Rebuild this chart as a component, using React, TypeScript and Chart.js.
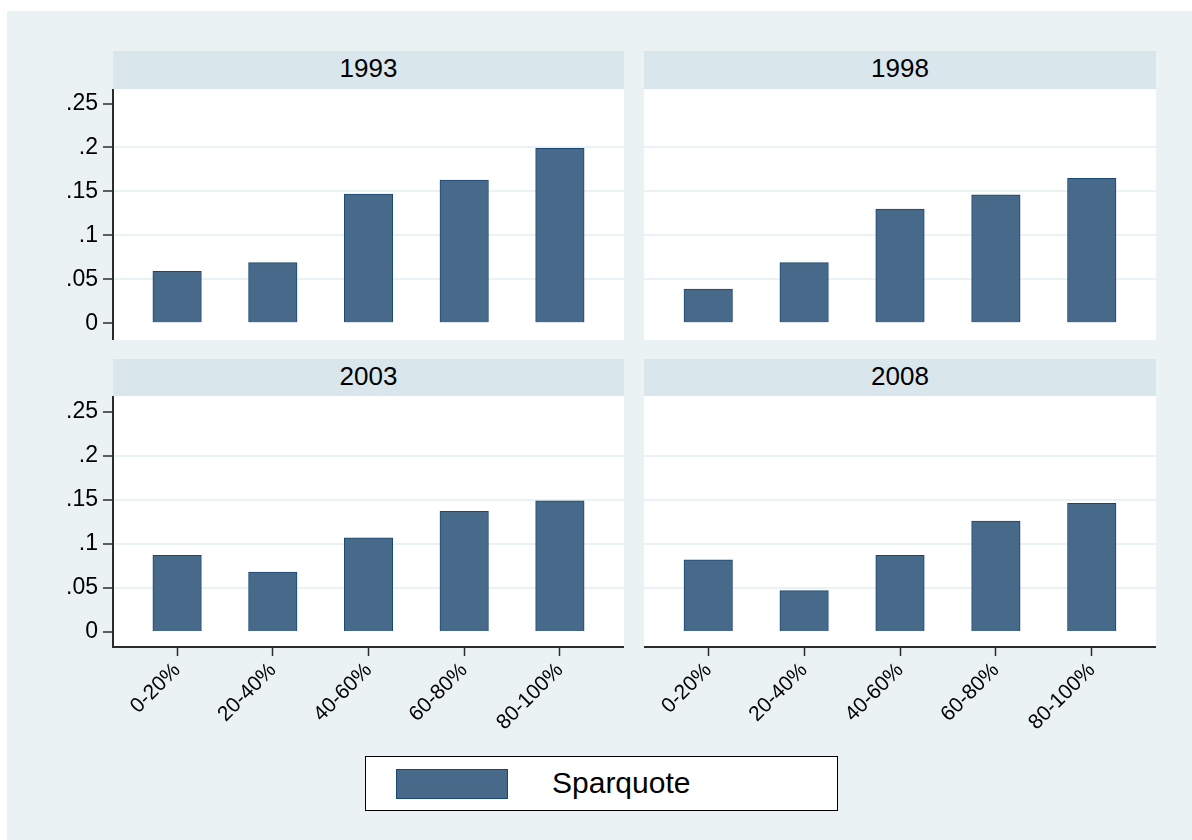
import React, { useEffect, useRef } from "react";
import { Chart, registerables } from "chart.js";

Chart.register(...registerables);

// ---------- data ----------
const categories = ["0-20%", "20-40%", "40-60%", "60-80%", "80-100%"];
const panelTitles = ["1993", "1998", "2003", "2008"];
const values1993 = [0.059, 0.069, 0.147, 0.163, 0.199];
const values1998 = [0.039, 0.069, 0.13, 0.146, 0.165];
const values2003 = [0.087, 0.068, 0.107, 0.137, 0.149];
const values2008 = [0.082, 0.047, 0.087, 0.126, 0.146];
const yTicks = [0, 0.05, 0.1, 0.15, 0.2, 0.25];
const yTickLabels = ["0", ".05", ".1", ".15", ".2", ".25"];
const seriesLabel = "Sparquote";

// ---------- style ----------
const FONT = "'Liberation Sans', Arial, Helvetica, sans-serif";
const BG = "#EAF2F3";
const STRIP = "#D9E6EB";
const BAR_FILL = "#476A8B";
const BAR_EDGE = "#1A476F";
const AXIS = "#2b2b2b";

Chart.defaults.font.family = FONT;

const plotBg = {
  id: "plotBg",
  beforeDraw(chart: any) {
    const { ctx, chartArea: a } = chart;
    ctx.save();
    ctx.fillStyle = "#ffffff";
    ctx.fillRect(a.left, a.top, a.right - a.left, a.bottom - a.top);
    ctx.restore();
  },
};

type PanelProps = {
  title: string;
  values: number[];
  isLeft: boolean;
  isBottom: boolean;
  plotLeft: number;
  plotTop: number;
  plotWidth: number;
  plotHeight: number;
  stripTop: number;
  yMin: number;
  yMax: number;
};

function Panel(p: PanelProps) {
  const ref = useRef<HTMLCanvasElement | null>(null);
  const yw = p.isLeft ? 100 : 0;
  const xh = p.isBottom ? 103 : 0;
  const cw = p.plotWidth + yw;
  const chH = p.plotHeight + xh;

  useEffect(() => {
    if (!ref.current) return;
    const zeroPad = (s: any) => {
      s.paddingLeft = 0;
      s.paddingRight = 0;
      s.paddingTop = 0;
      s.paddingBottom = 0;
    };
    const chart = new Chart(ref.current, {
      type: "bar",
      data: {
        datasets: [
          {
            label: seriesLabel,
            data: p.values.map((v, i) => ({ x: i, y: v })),
            backgroundColor: BAR_FILL,
            borderColor: BAR_EDGE,
            borderWidth: 1,
            barThickness: 48.5,
          },
        ],
      },
      options: {
        animation: false,
        responsive: false,
        maintainAspectRatio: false,
        devicePixelRatio: 1,
        layout: { padding: 0 },
        plugins: {
          legend: { display: false },
          title: { display: false },
          tooltip: { enabled: false },
        },
        scales: {
          x: {
            type: "linear",
            bounds: "data",
            offset: false,
            min: -0.67,
            max: 4.67,
            display: p.isBottom,
            afterBuildTicks: (s: any) => {
              s.ticks = categories.map((_, i) => ({ value: i }));
            },
            afterFit: (s: any) => {
              s.height = xh;
              zeroPad(s);
            },
            grid: {
              offset: false,
              drawOnChartArea: false,
              drawTicks: true,
              tickLength: 9,
              tickColor: AXIS,
              tickWidth: 1.5,
            },
            border: { display: true, color: AXIS, width: 2 },
            ticks: {
              autoSkip: false,
              minRotation: 45,
              maxRotation: 45,
              padding: 2,
              color: "#000",
              font: { size: 21 },
              callback: (v: any) => categories[Math.round(Number(v))] ?? "",
            },
          },
          y: {
            type: "linear",
            bounds: "data",
            min: p.yMin,
            max: p.yMax,
            afterBuildTicks: (s: any) => {
              s.ticks = yTicks.map((v) => ({ value: v }));
            },
            afterFit: (s: any) => {
              s.width = yw;
              zeroPad(s);
            },
            grid: {
              color: (ctx: any) =>
                ctx.tick && ctx.tick.value > 0.001 && ctx.tick.value < 0.249
                  ? BG
                  : "rgba(0,0,0,0)",
              lineWidth: 2,
              drawTicks: p.isLeft,
              tickLength: 10,
              tickColor: AXIS,
              tickWidth: 1.5,
            },
            border: { display: p.isLeft, color: AXIS, width: 2 },
            ticks: {
              display: p.isLeft,
              padding: 5,
              color: "#000",
              font: { size: 23 },
              callback: (v: any) => {
                const idx = yTicks.findIndex((t) => Math.abs(t - Number(v)) < 1e-9);
                return idx >= 0 ? yTickLabels[idx] : "";
              },
            },
          },
        },
      } as any,
      plugins: [plotBg],
    });
    return () => chart.destroy();
  }, []);

  return (
    <>
      <div
        style={{
          position: "absolute",
          left: p.plotLeft,
          top: p.stripTop,
          width: p.plotWidth,
          height: p.plotTop - p.stripTop,
          background: STRIP,
          textAlign: "center",
          fontFamily: FONT,
          fontSize: 26,
          lineHeight: "34px",
          color: "#000",
        }}
      >
        {p.title}
      </div>
      <canvas
        ref={ref}
        width={cw}
        height={chH}
        style={{
          position: "absolute",
          left: p.plotLeft - yw,
          top: p.plotTop,
          width: cw,
          height: chH,
        }}
      />
    </>
  );
}

export default function App() {
  const panels: PanelProps[] = [
    { title: panelTitles[0], values: values1993, isLeft: true, isBottom: false, plotLeft: 113, plotTop: 89, plotWidth: 511, plotHeight: 251, stripTop: 51, yMin: -0.019, yMax: 0.2665 },
    { title: panelTitles[1], values: values1998, isLeft: false, isBottom: false, plotLeft: 644, plotTop: 89, plotWidth: 512, plotHeight: 251, stripTop: 51, yMin: -0.019, yMax: 0.2665 },
    { title: panelTitles[2], values: values2003, isLeft: true, isBottom: true, plotLeft: 113, plotTop: 396, plotWidth: 511, plotHeight: 251, stripTop: 359, yMin: -0.017, yMax: 0.268 },
    { title: panelTitles[3], values: values2008, isLeft: false, isBottom: true, plotLeft: 644, plotTop: 396, plotWidth: 512, plotHeight: 251, stripTop: 359, yMin: -0.017, yMax: 0.268 },
  ];
  return (
    <div
      style={{
        position: "absolute",
        left: 0,
        top: 0,
        width: 1192,
        height: 840,
        background: "#ffffff",
        overflow: "hidden",
      }}
    >
      <div
        style={{
          position: "absolute",
          left: 7,
          top: 11,
          width: 1185,
          height: 829,
          background: BG,
        }}
      />
      {panels.map((p) => (
        <Panel key={p.title} {...p} />
      ))}
      <div
        style={{
          position: "absolute",
          left: 365,
          top: 756,
          width: 473,
          height: 55,
          boxSizing: "border-box",
          border: "1.5px solid #000",
          background: "#ffffff",
        }}
      >
        <div
          style={{
            position: "absolute",
            left: 30,
            top: 12,
            width: 112,
            height: 30,
            boxSizing: "border-box",
            background: BAR_FILL,
            border: `1px solid ${BAR_EDGE}`,
          }}
        />
        <span
          style={{
            position: "absolute",
            left: 186,
            top: 0,
            lineHeight: "52px",
            fontFamily: FONT,
            fontSize: 30,
            color: "#000",
            whiteSpace: "nowrap",
          }}
        >
          {seriesLabel}
        </span>
      </div>
    </div>
  );
}
